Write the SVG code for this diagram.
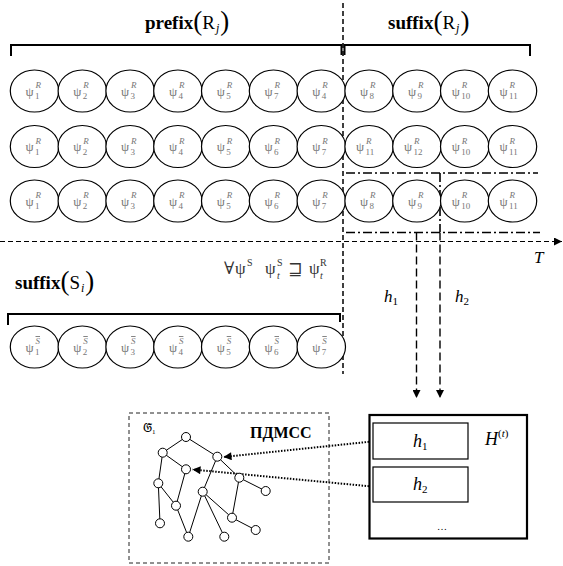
<svg xmlns="http://www.w3.org/2000/svg" width="563" height="566" viewBox="0 0 563 566">
  <defs>
    <marker id="ah" viewBox="0 0 10 10" refX="10" refY="5" markerWidth="9" markerHeight="8" orient="auto" markerUnits="userSpaceOnUse">
      <path d="M0,0 L10,5 L0,10 z" fill="#000"/>
    </marker>
  </defs>
  <style>
    text{font-family:"Liberation Serif","DejaVu Serif",serif;fill:#000}
    .el{fill:#fff;stroke:#000;stroke-width:1.2}
    .psi{font-size:13px;fill:#777}
    .sup{font-size:9px;font-style:italic;fill:#777}
    .sub{font-size:9px;fill:#777}
    .bar{text-decoration:overline}
    .br{fill:none;stroke:#000;stroke-width:2}
    .vd{fill:none;stroke:#000;stroke-width:1.5;stroke-dasharray:5 3}
    .ax{fill:none;stroke:#000;stroke-width:1.2;stroke-dasharray:5 3}
    .dd{fill:none;stroke:#000;stroke-width:1.6;stroke-dasharray:9 3 2 3}
    .ld{fill:none;stroke:#000;stroke-width:1.4;stroke-dasharray:8 4}
    .dot{fill:none;stroke:#000;stroke-width:2;stroke-dasharray:1.5 1.5}
    .ge{fill:none;stroke:#000;stroke-width:1}
    .gn{fill:#fff;stroke:#000;stroke-width:1}
    .lbl{font-size:19px}
    .par{font-size:27px;font-weight:normal}
    .it{font-style:italic}
    .box{fill:#fff;stroke:#000;stroke-width:1.2}
    .fm{font-size:17px;fill:#333}
    .fs{font-size:10px;fill:#333}
  </style>

  <!-- connectors: brackets, time axis, guide lines, arrows, graph edges -->
  <g id="connectors">
    <!-- brackets over R_j -->
    <path class="br" d="M11,56 V45 H341.5 V55 M344.5,55 V45 H530 V56"/>
    <!-- bracket over S_i -->
    <path class="br" d="M8,325 V314 H340 V322"/>
    <!-- prefix / suffix split -->
    <line class="vd" x1="343" y1="3" x2="343" y2="374"/>
    <!-- time axis -->
    <line class="ax" x1="0" y1="241.5" x2="562" y2="241.5" marker-end="url(#ah)"/>
    <!-- dash-dot window -->
    <line class="dd" x1="346" y1="173" x2="538" y2="173"/>
    <line class="dd" x1="346" y1="232.5" x2="540" y2="232.5"/>
    <line class="dd" x1="440" y1="173" x2="440" y2="232"/>
    <!-- h1 / h2 arrows -->
    <line class="ld" x1="416.5" y1="232.5" x2="416.5" y2="398" marker-end="url(#ah)"/>
    <line class="ld" x1="440" y1="232.5" x2="440" y2="398" marker-end="url(#ah)"/>
    <!-- pointers from H(t) into the graph -->
    <line class="dot" x1="372" y1="441.5" x2="223.5" y2="457" marker-end="url(#ah)"/>
    <line class="dot" x1="372" y1="486.5" x2="192.5" y2="469.5" marker-end="url(#ah)"/>
    <!-- graph edges -->
    <g id="graph-edges">
      <line class="ge" x1="186" y1="437" x2="162.7" y2="452.7"/>
      <line class="ge" x1="186" y1="437" x2="217.3" y2="456.7"/>
      <line class="ge" x1="162.7" y1="452.7" x2="186" y2="469.3"/>
      <line class="ge" x1="162.7" y1="452.7" x2="158.3" y2="483.3"/>
      <line class="ge" x1="186" y1="469.3" x2="176" y2="505.7"/>
      <line class="ge" x1="217.3" y1="456.7" x2="239.3" y2="477.7"/>
      <line class="ge" x1="217.3" y1="456.7" x2="202.7" y2="491.7"/>
      <line class="ge" x1="158.3" y1="483.3" x2="176" y2="505.7"/>
      <line class="ge" x1="158.3" y1="483.3" x2="160" y2="523.3"/>
      <line class="ge" x1="176" y1="505.7" x2="188.3" y2="536.7"/>
      <line class="ge" x1="202.7" y1="491.7" x2="188.3" y2="536.7"/>
      <line class="ge" x1="202.7" y1="491.7" x2="232" y2="517.7"/>
      <line class="ge" x1="202.7" y1="491.7" x2="224.3" y2="536.7"/>
      <line class="ge" x1="239.3" y1="477.7" x2="265.7" y2="491"/>
      <line class="ge" x1="239.3" y1="477.7" x2="232" y2="517.7"/>
      <line class="ge" x1="232" y1="517.7" x2="255.7" y2="530"/>
    </g>
  </g>

  <!-- headings -->
  <text class="lbl" y="29"><tspan x="145" font-weight="bold">prefix</tspan><tspan class="par" dy="1">(</tspan><tspan dy="-1">R</tspan><tspan class="it" font-size="12" dx="1" dy="3">j</tspan><tspan class="par" dx="1" dy="-2">)</tspan></text>
  <text class="lbl" y="29"><tspan x="388" font-weight="bold">suffix</tspan><tspan class="par" dy="1">(</tspan><tspan dy="-1">R</tspan><tspan class="it" font-size="12" dx="1" dy="3">j</tspan><tspan class="par" dx="1" dy="-2">)</tspan></text>
  <text class="lbl" y="289"><tspan x="15" font-weight="bold">suffix</tspan><tspan class="par" dy="1">(</tspan><tspan dy="-1">S</tspan><tspan class="it" font-size="12" dx="1" dy="3">i</tspan><tspan class="par" dx="1" dy="-2">)</tspan></text>

  <!-- subsumption condition -->
  <text class="fm" x="224" y="274">∀</text>
  <text class="fm" x="235" y="274">ψ</text>
  <text class="fs" x="247" y="266">S</text>
  <text class="fm" x="265" y="274">ψ</text>
  <text class="fs" x="277" y="266">S</text>
  <text class="fs it" x="277" y="279">t</text>
  <text class="fm" font-size="20" x="288" y="275">⊒</text>
  <text class="fm" x="309" y="274">ψ</text>
  <text class="fs" x="320" y="266">R</text>
  <text class="fs it" x="320" y="279">t</text>

  <text class="it" font-size="17" x="534" y="263">T</text>
  <text font-size="17" y="302"><tspan class="it" x="384">h</tspan><tspan font-size="11" dy="3">1</tspan></text>
  <text font-size="17" y="302"><tspan class="it" x="455">h</tspan><tspan font-size="11" dy="3">2</tspan></text>

  <!-- row 1 of R_j -->
  <g id="r1">
    <g id="r1-1"><ellipse class="el" cx="34.5" cy="91" rx="24.2" ry="21"/><text class="psi" x="25.5" y="95.5">ψ</text><text class="sup" x="35.5" y="88">R</text><text class="sub" x="35" y="99">1</text></g>
    <g id="r1-2"><ellipse class="el" cx="82.3" cy="91" rx="24.2" ry="21"/><text class="psi" x="73.3" y="95.5">ψ</text><text class="sup" x="83.3" y="88">R</text><text class="sub" x="82.8" y="99">2</text></g>
    <g id="r1-3"><ellipse class="el" cx="130.1" cy="91" rx="24.2" ry="21"/><text class="psi" x="121.1" y="95.5">ψ</text><text class="sup" x="131.1" y="88">R</text><text class="sub" x="130.6" y="99">3</text></g>
    <g id="r1-4"><ellipse class="el" cx="177.9" cy="91" rx="24.2" ry="21"/><text class="psi" x="168.9" y="95.5">ψ</text><text class="sup" x="178.9" y="88">R</text><text class="sub" x="178.4" y="99">4</text></g>
    <g id="r1-5"><ellipse class="el" cx="225.7" cy="91" rx="24.2" ry="21"/><text class="psi" x="216.7" y="95.5">ψ</text><text class="sup" x="226.7" y="88">R</text><text class="sub" x="226.2" y="99">5</text></g>
    <g id="r1-6"><ellipse class="el" cx="273.5" cy="91" rx="24.2" ry="21"/><text class="psi" x="264.5" y="95.5">ψ</text><text class="sup" x="274.5" y="88">R</text><text class="sub" x="274" y="99">7</text></g>
    <g id="r1-7"><ellipse class="el" cx="321.3" cy="91" rx="24.2" ry="21"/><text class="psi" x="312.3" y="95.5">ψ</text><text class="sup" x="322.3" y="88">R</text><text class="sub" x="321.8" y="99">4</text></g>
    <g id="r1-8"><ellipse class="el" cx="369.1" cy="91" rx="24.2" ry="21"/><text class="psi" x="360.1" y="95.5">ψ</text><text class="sup" x="370.1" y="88">R</text><text class="sub" x="369.6" y="99">8</text></g>
    <g id="r1-9"><ellipse class="el" cx="416.9" cy="91" rx="24.2" ry="21"/><text class="psi" x="407.9" y="95.5">ψ</text><text class="sup" x="417.9" y="88">R</text><text class="sub" x="417.4" y="99">9</text></g>
    <g id="r1-10"><ellipse class="el" cx="464.7" cy="91" rx="24.2" ry="21"/><text class="psi" x="451.7" y="95.5">ψ</text><text class="sup" x="461.7" y="88">R</text><text class="sub" x="461.2" y="99">10</text></g>
    <g id="r1-11"><ellipse class="el" cx="512.5" cy="91" rx="24.2" ry="21"/><text class="psi" x="499.5" y="95.5">ψ</text><text class="sup" x="509.5" y="88">R</text><text class="sub" x="509" y="99">11</text></g>
  </g>

  <!-- row 2 of R_j -->
  <g id="r2">
    <g id="r2-1"><ellipse class="el" cx="34.5" cy="146.5" rx="24.2" ry="21"/><text class="psi" x="25.5" y="151">ψ</text><text class="sup" x="35.5" y="143.5">R</text><text class="sub" x="35" y="154.5">1</text></g>
    <g id="r2-2"><ellipse class="el" cx="82.3" cy="146.5" rx="24.2" ry="21"/><text class="psi" x="73.3" y="151">ψ</text><text class="sup" x="83.3" y="143.5">R</text><text class="sub" x="82.8" y="154.5">2</text></g>
    <g id="r2-3"><ellipse class="el" cx="130.1" cy="146.5" rx="24.2" ry="21"/><text class="psi" x="121.1" y="151">ψ</text><text class="sup" x="131.1" y="143.5">R</text><text class="sub" x="130.6" y="154.5">3</text></g>
    <g id="r2-4"><ellipse class="el" cx="177.9" cy="146.5" rx="24.2" ry="21"/><text class="psi" x="168.9" y="151">ψ</text><text class="sup" x="178.9" y="143.5">R</text><text class="sub" x="178.4" y="154.5">4</text></g>
    <g id="r2-5"><ellipse class="el" cx="225.7" cy="146.5" rx="24.2" ry="21"/><text class="psi" x="216.7" y="151">ψ</text><text class="sup" x="226.7" y="143.5">R</text><text class="sub" x="226.2" y="154.5">5</text></g>
    <g id="r2-6"><ellipse class="el" cx="273.5" cy="146.5" rx="24.2" ry="21"/><text class="psi" x="264.5" y="151">ψ</text><text class="sup" x="274.5" y="143.5">R</text><text class="sub" x="274" y="154.5">6</text></g>
    <g id="r2-7"><ellipse class="el" cx="321.3" cy="146.5" rx="24.2" ry="21"/><text class="psi" x="312.3" y="151">ψ</text><text class="sup" x="322.3" y="143.5">R</text><text class="sub" x="321.8" y="154.5">7</text></g>
    <g id="r2-8"><ellipse class="el" cx="369.1" cy="146.5" rx="24.2" ry="21"/><text class="psi" x="356.1" y="151">ψ</text><text class="sup" x="366.1" y="143.5">R</text><text class="sub" x="365.6" y="154.5">11</text></g>
    <g id="r2-9"><ellipse class="el" cx="416.9" cy="146.5" rx="24.2" ry="21"/><text class="psi" x="403.9" y="151">ψ</text><text class="sup" x="413.9" y="143.5">R</text><text class="sub" x="413.4" y="154.5">12</text></g>
    <g id="r2-10"><ellipse class="el" cx="464.7" cy="146.5" rx="24.2" ry="21"/><text class="psi" x="451.7" y="151">ψ</text><text class="sup" x="461.7" y="143.5">R</text><text class="sub" x="461.2" y="154.5">10</text></g>
    <g id="r2-11"><ellipse class="el" cx="512.5" cy="146.5" rx="24.2" ry="21"/><text class="psi" x="499.5" y="151">ψ</text><text class="sup" x="509.5" y="143.5">R</text><text class="sub" x="509" y="154.5">11</text></g>
  </g>

  <!-- row 3 of R_j -->
  <g id="r3">
    <g id="r3-1"><ellipse class="el" cx="34.5" cy="201" rx="24.2" ry="21"/><text class="psi" x="25.5" y="205.5">ψ</text><text class="sup" x="35.5" y="198">R</text><text class="sub" x="35" y="209">1</text></g>
    <g id="r3-2"><ellipse class="el" cx="82.3" cy="201" rx="24.2" ry="21"/><text class="psi" x="73.3" y="205.5">ψ</text><text class="sup" x="83.3" y="198">R</text><text class="sub" x="82.8" y="209">2</text></g>
    <g id="r3-3"><ellipse class="el" cx="130.1" cy="201" rx="24.2" ry="21"/><text class="psi" x="121.1" y="205.5">ψ</text><text class="sup" x="131.1" y="198">R</text><text class="sub" x="130.6" y="209">3</text></g>
    <g id="r3-4"><ellipse class="el" cx="177.9" cy="201" rx="24.2" ry="21"/><text class="psi" x="168.9" y="205.5">ψ</text><text class="sup" x="178.9" y="198">R</text><text class="sub" x="178.4" y="209">4</text></g>
    <g id="r3-5"><ellipse class="el" cx="225.7" cy="201" rx="24.2" ry="21"/><text class="psi" x="216.7" y="205.5">ψ</text><text class="sup" x="226.7" y="198">R</text><text class="sub" x="226.2" y="209">5</text></g>
    <g id="r3-6"><ellipse class="el" cx="273.5" cy="201" rx="24.2" ry="21"/><text class="psi" x="264.5" y="205.5">ψ</text><text class="sup" x="274.5" y="198">R</text><text class="sub" x="274" y="209">6</text></g>
    <g id="r3-7"><ellipse class="el" cx="321.3" cy="201" rx="24.2" ry="21"/><text class="psi" x="312.3" y="205.5">ψ</text><text class="sup" x="322.3" y="198">R</text><text class="sub" x="321.8" y="209">7</text></g>
    <g id="r3-8"><ellipse class="el" cx="369.1" cy="201" rx="24.2" ry="21"/><text class="psi" x="360.1" y="205.5">ψ</text><text class="sup" x="370.1" y="198">R</text><text class="sub" x="369.6" y="209">8</text></g>
    <g id="r3-9"><ellipse class="el" cx="416.9" cy="201" rx="24.2" ry="21"/><text class="psi" x="407.9" y="205.5">ψ</text><text class="sup" x="417.9" y="198">R</text><text class="sub" x="417.4" y="209">9</text></g>
    <g id="r3-10"><ellipse class="el" cx="464.7" cy="201" rx="24.2" ry="21"/><text class="psi" x="451.7" y="205.5">ψ</text><text class="sup" x="461.7" y="198">R</text><text class="sub" x="461.2" y="209">10</text></g>
    <g id="r3-11"><ellipse class="el" cx="512.5" cy="201" rx="24.2" ry="21"/><text class="psi" x="499.5" y="205.5">ψ</text><text class="sup" x="509.5" y="198">R</text><text class="sub" x="509" y="209">11</text></g>
  </g>

  <!-- row of S_i -->
  <g id="s">
    <g id="s-1"><ellipse class="el" cx="34.5" cy="347" rx="24.2" ry="21"/><text class="psi" x="25.5" y="351.5">ψ</text><text class="sup bar" x="35.5" y="344">S</text><text class="sub" x="35" y="355">1</text></g>
    <g id="s-2"><ellipse class="el" cx="82.3" cy="347" rx="24.2" ry="21"/><text class="psi" x="73.3" y="351.5">ψ</text><text class="sup bar" x="83.3" y="344">S</text><text class="sub" x="82.8" y="355">2</text></g>
    <g id="s-3"><ellipse class="el" cx="130.1" cy="347" rx="24.2" ry="21"/><text class="psi" x="121.1" y="351.5">ψ</text><text class="sup bar" x="131.1" y="344">S</text><text class="sub" x="130.6" y="355">3</text></g>
    <g id="s-4"><ellipse class="el" cx="177.9" cy="347" rx="24.2" ry="21"/><text class="psi" x="168.9" y="351.5">ψ</text><text class="sup bar" x="178.9" y="344">S</text><text class="sub" x="178.4" y="355">4</text></g>
    <g id="s-5"><ellipse class="el" cx="225.7" cy="347" rx="24.2" ry="21"/><text class="psi" x="216.7" y="351.5">ψ</text><text class="sup bar" x="226.7" y="344">S</text><text class="sub" x="226.2" y="355">5</text></g>
    <g id="s-6"><ellipse class="el" cx="273.5" cy="347" rx="24.2" ry="21"/><text class="psi" x="264.5" y="351.5">ψ</text><text class="sup bar" x="274.5" y="344">S</text><text class="sub" x="274" y="355">6</text></g>
    <g id="s-7"><ellipse class="el" cx="321.3" cy="347" rx="24.2" ry="21"/><text class="psi" x="312.3" y="351.5">ψ</text><text class="sup bar" x="322.3" y="344">S</text><text class="sub" x="321.8" y="355">7</text></g>
  </g>

  <!-- graph G1 in dashed frame -->
  <g id="graph">
    <rect x="129" y="413" width="200" height="150" fill="none" stroke="#222" stroke-width="1" stroke-dasharray="4 3"/>
    <text font-size="13" x="143" y="432">𝔊̃<tspan font-size="7" dy="2">1</tspan></text>
    <text font-size="16" font-weight="bold" x="250" y="438">ПДМСС</text>
  </g>
  <g id="graph-nodes">
    <circle class="gn" cx="186" cy="437" r="4.5"/>
    <circle class="gn" cx="162.7" cy="452.7" r="4.5"/>
    <circle class="gn" cx="217.3" cy="456.7" r="4.5"/>
    <circle class="gn" cx="186" cy="469.3" r="4.5"/>
    <circle class="gn" cx="239.3" cy="477.7" r="4.5"/>
    <circle class="gn" cx="158.3" cy="483.3" r="4.5"/>
    <circle class="gn" cx="202.7" cy="491.7" r="4.5"/>
    <circle class="gn" cx="265.7" cy="491" r="4.5"/>
    <circle class="gn" cx="176" cy="505.7" r="4.5"/>
    <circle class="gn" cx="232" cy="517.7" r="4.5"/>
    <circle class="gn" cx="160" cy="523.3" r="4.5"/>
    <circle class="gn" cx="255.7" cy="530" r="4.5"/>
    <circle class="gn" cx="188.3" cy="536.7" r="4.5"/>
    <circle class="gn" cx="224.3" cy="536.7" r="4.5"/>
  </g>

  <!-- hypothesis set H(t) -->
  <g id="H">
    <rect x="369.5" y="415" width="157.5" height="123.5" fill="#fff" stroke="#000" stroke-width="2.2"/>
    <text class="it" font-size="18" x="485" y="445">H<tspan font-size="11" font-style="normal" dy="-8">(</tspan><tspan font-size="11">t</tspan><tspan font-size="11" font-style="normal">)</tspan></text>
    <text font-size="10" x="437" y="530">…</text>
  </g>
  <g id="h1">
    <rect class="box" x="373" y="423" width="95" height="36"/>
    <text font-size="18" y="447"><tspan class="it" x="413">h</tspan><tspan font-size="11" dy="3">1</tspan></text>
  </g>
  <g id="h2">
    <rect class="box" x="373" y="467" width="95" height="35"/>
    <text font-size="18" y="490"><tspan class="it" x="413">h</tspan><tspan font-size="11" dy="3">2</tspan></text>
  </g>
</svg>
